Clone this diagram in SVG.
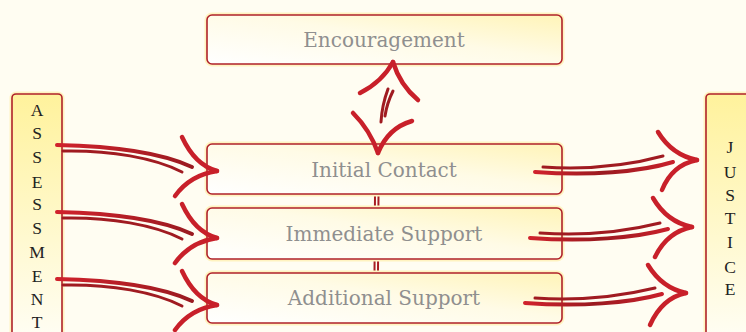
<svg xmlns="http://www.w3.org/2000/svg" width="746" height="332" viewBox="0 0 746 332">
<defs>
<linearGradient id="boxg" x1="0" y1="1" x2="1" y2="0">
<stop offset="0" stop-color="#ffffff"/>
<stop offset="0.55" stop-color="#fffbe6"/>
<stop offset="1" stop-color="#fff4b8"/>
</linearGradient>
<linearGradient id="sideg" x1="0" y1="0" x2="0" y2="1">
<stop offset="0" stop-color="#fff29c"/>
<stop offset="1" stop-color="#fffef6"/>
</linearGradient>
<linearGradient id="shaftL" x1="0" y1="0" x2="1" y2="0">
<stop offset="0" stop-color="#d0222c"/>
<stop offset="1" stop-color="#9a1a20"/>
</linearGradient>
<linearGradient id="shaftR" x1="0" y1="0" x2="1" y2="0">
<stop offset="0" stop-color="#d0222c"/>
<stop offset="0.5" stop-color="#9a1a20"/>
<stop offset="1" stop-color="#c8202a"/>
</linearGradient>
</defs>
<style>
.box{fill:url(#boxg);stroke:#b0222a;stroke-width:1.6}
.glow{fill:none;stroke:#fff3c0;stroke-width:5}
.side{fill:url(#sideg);stroke:#b0222a;stroke-width:1.6}
.lbl{font-family:"DejaVu Serif","Liberation Serif",serif;font-size:20px;fill:#8f8f8f;text-anchor:middle}
.vt{font-family:"Liberation Serif",serif;font-size:17.5px;fill:#222;text-anchor:middle}
.wing{fill:none;stroke:#c8202a;stroke-width:4.5;stroke-linecap:round}
.sa{fill:none;stroke:url(#shaftL);stroke-width:4;stroke-linecap:round}
.sb{fill:none;stroke:#a01b21;stroke-width:3;stroke-linecap:round}
.ra{fill:none;stroke:url(#shaftR);stroke-width:4;stroke-linecap:round}
.vl{fill:none;stroke:#a81c22;stroke-width:2;stroke-linecap:round}
</style>
<rect width="746" height="332" fill="#fffdf2"/>
<g id="links-behind">
<path class="vl" d="M375,194 L374.5,273"/>
<path class="vl" d="M378.5,194 L378,273"/>
</g>
<g id="assessment">
<rect class="glow" x="12" y="94" width="50" height="250" rx="4"/>
<rect class="side" x="12" y="94" width="50" height="250" rx="4"/>
<text class="vt" x="37" y="116">A</text>
<text class="vt" x="37" y="139">S</text>
<text class="vt" x="37" y="163">S</text>
<text class="vt" x="37" y="188">E</text>
<text class="vt" x="37" y="210">S</text>
<text class="vt" x="37" y="234">S</text>
<text class="vt" x="37" y="258">M</text>
<text class="vt" x="37" y="282">E</text>
<text class="vt" x="37" y="305">N</text>
<text class="vt" x="37" y="328">T</text>
</g>
<g id="justice">
<rect class="glow" x="706" y="94" width="60" height="250" rx="4"/>
<rect class="side" x="706" y="94" width="60" height="250" rx="4"/>
<text class="vt" x="730" y="153">J</text>
<text class="vt" x="730" y="178">U</text>
<text class="vt" x="730" y="201">S</text>
<text class="vt" x="730" y="224">T</text>
<text class="vt" x="730" y="248">I</text>
<text class="vt" x="730" y="273">C</text>
<text class="vt" x="730" y="295">E</text>
</g>
<g id="encouragement">
<rect class="glow" x="207" y="15" width="355" height="49" rx="5"/>
<rect class="box" x="207" y="15" width="355" height="49" rx="5"/>
<text class="lbl" x="384" y="47">Encouragement</text>
</g>
<g id="initial-contact">
<rect class="glow" x="207" y="144" width="355" height="50" rx="5"/>
<rect class="box" x="207" y="144" width="355" height="50" rx="5"/>
<text class="lbl" x="384" y="177">Initial Contact</text>
</g>
<g id="immediate-support">
<rect class="glow" x="207" y="208" width="355" height="51" rx="5"/>
<rect class="box" x="207" y="208" width="355" height="51" rx="5"/>
<text class="lbl" x="384" y="241">Immediate Support</text>
</g>
<g id="additional-support">
<rect class="glow" x="207" y="273" width="355" height="50" rx="5"/>
<rect class="box" x="207" y="273" width="355" height="50" rx="5"/>
<text class="lbl" x="384" y="305">Additional Support</text>
</g>
<g id="connectors">
<path class="sa" d="M57,145 C110,146 160,152 192,167"/>
<path class="sb" d="M63,151 C110,150 155,158 182,172"/>
<path class="wing" d="M182,137 Q195,165 217,171"/>
<path class="wing" d="M217,171 Q190,175 175,196"/>
<path class="sa" d="M57,212 C110,213 160,219 192,234"/>
<path class="sb" d="M63,218 C110,217 155,225 182,239"/>
<path class="wing" d="M182,204 Q195,232 217,238"/>
<path class="wing" d="M217,238 Q190,242 175,263"/>
<path class="sa" d="M57,279 C110,280 160,286 192,301"/>
<path class="sb" d="M63,285 C110,284 155,292 182,306"/>
<path class="wing" d="M182,271 Q195,299 217,305"/>
<path class="wing" d="M217,305 Q190,309 175,330"/>
<path class="ra" d="M535,172 C590,176 640,172 673,162"/>
<path class="sb" d="M543,167 C590,170 630,165 663,156"/>
<path class="wing" d="M658,132 Q672,155 697,160"/>
<path class="wing" d="M697,160 Q672,165 662,190"/>
<path class="ra" d="M530,238 C585,242 635,238 668,229"/>
<path class="sb" d="M540,233 C585,236 628,231 660,223"/>
<path class="wing" d="M653,198 Q667,222 692,227"/>
<path class="wing" d="M692,227 Q667,232 655,257"/>
<path class="ra" d="M525,303 C580,307 630,303 662,294"/>
<path class="sb" d="M535,298 C580,301 622,296 655,288"/>
<path class="wing" d="M648,265 Q662,288 686,293"/>
<path class="wing" d="M686,293 Q662,298 650,325"/>
<path class="wing" d="M360,93 Q382,82 393,62"/>
<path class="wing" d="M393,62 Q400,85 418,100"/>
<path class="sb" d="M388,89 Q382,105 381,122"/>
<path class="sb" d="M393,91 Q387,103 385,116"/>
<path class="wing" d="M353,113 Q370,130 378,153"/>
<path class="wing" d="M378,153 Q388,128 412,121"/>
</g>
</svg>
